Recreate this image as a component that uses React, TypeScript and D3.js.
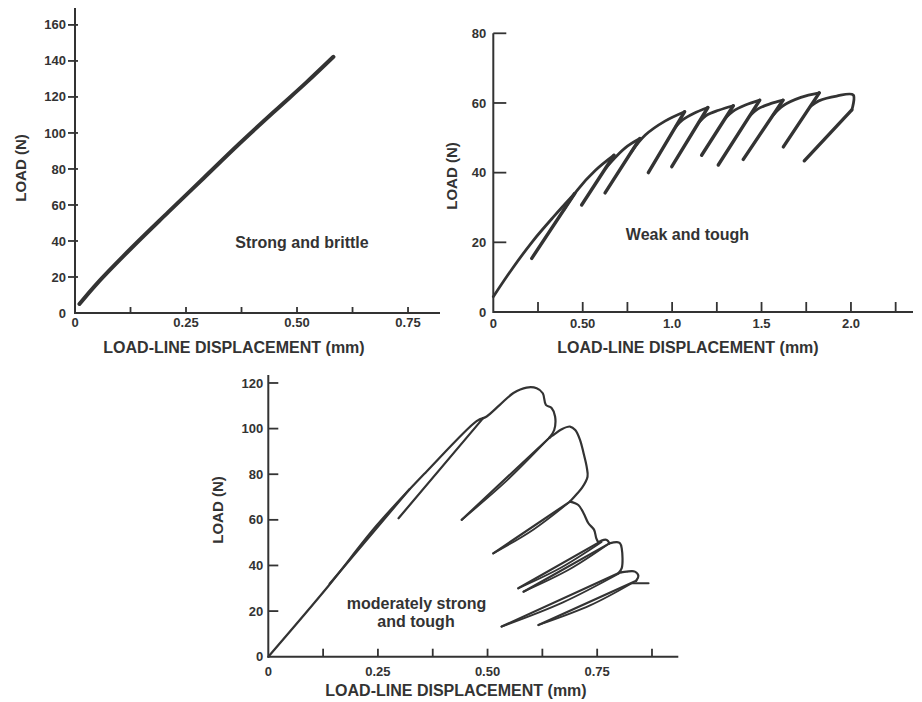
import React, { useEffect, useRef } from 'react';
import * as d3 from 'd3';

type Pt = [number, number];

// ---- Strong and brittle (top left) ----
const brittleCurve: Pt[] = [
  [0.01, 5], [0.05, 16.5], [0.13, 36.8], [0.21, 56], [0.29, 75],
  [0.37, 94], [0.45, 112.2], [0.52, 127.8], [0.582, 142.3],
];
const brittleXTicks = [0, 0.125, 0.25, 0.375, 0.5, 0.625, 0.75];
const brittleXLabels = ['0', '', '0.25', '', '0.50', '', '0.75'];
const brittleYTicks = [0, 20, 40, 60, 80, 100, 120, 140, 160];

// ---- Weak and tough (top right) ----
// loading humps: each leaves the previous unloading line and ends at a peak
const weakHumps: Pt[][] = [
  [[0, 4.4], [0.1, 12.0], [0.22, 20.3], [0.34, 27.5], [0.455, 34.0]],
  [[0.395, 29.35], [0.47, 35.0], [0.57, 40.6], [0.675, 45.0]],
  [[0.63, 41.4], [0.69, 44.8], [0.75, 47.6], [0.82, 49.8]],
  [[0.771, 45.9], [0.85, 50.8], [0.96, 54.8], [1.07, 57.5]],
  [[1.019, 53.1], [1.06, 55.2], [1.12, 57.0], [1.2, 58.7]],
  [[1.15, 54.45], [1.19, 56.4], [1.26, 57.9], [1.342, 59.2]],
  [[1.298, 55.65], [1.34, 57.6], [1.41, 59.4], [1.49, 60.8]],
  [[1.432, 56.15], [1.48, 58.3], [1.55, 59.8], [1.62, 60.8]],
  [[1.565, 56.55], [1.62, 59.2], [1.72, 61.6], [1.823, 62.9]],
  [[1.773, 59.0], [1.82, 60.6], [1.92, 62.0], [2.013, 62.3], [2.005, 58.0]],
];
// unloading lines: peak -> bottom
const weakUnloads: Pt[][] = [
  [[0.455, 34.0], [0.215, 15.4]],
  [[0.675, 45.0], [0.494, 30.7]],
  [[0.82, 49.8], [0.625, 34.2]],
  [[1.07, 57.5], [0.867, 40.0]],
  [[1.2, 58.7], [0.998, 41.7]],
  [[1.342, 59.2], [1.165, 45.0]],
  [[1.49, 60.8], [1.258, 42.2]],
  [[1.62, 60.8], [1.398, 43.8]],
  [[1.823, 62.9], [1.622, 47.4]],
  [[2.005, 58.0], [1.739, 43.4]],
];
const weakXTicks = [0, 0.25, 0.5, 0.75, 1, 1.25, 1.5, 1.75, 2, 2.25];
const weakXLabels = ['0', '', '0.50', '', '1.0', '', '1.5', '', '2.0', ''];
const weakYTicks = [0, 20, 40, 60, 80];

// ---- Moderately strong and tough (bottom) ----
const modEnvelope: Pt[] = [[0, 0], [0.137, 31], [0.247, 57.5], [0.36, 81], [0.475, 103.3], [0.49, 104.6]];
const modHumps: Pt[][] = [
  [[0.49, 104.6], [0.498, 105.3], [0.528, 110.4], [0.559, 115.6], [0.589, 118], [0.612, 117.7],
    [0.626, 115.5], [0.633, 110.4], [0.646, 109], [0.654, 105.3], [0.652, 99.4], [0.641, 96]],
  [[0.641, 96], [0.65, 97.2], [0.669, 99.7], [0.688, 100.9], [0.7, 99.4], [0.711, 95], [0.719, 89.2],
    [0.726, 83.3], [0.728, 78.9], [0.716, 74.2], [0.703, 71.2], [0.688, 68]],
  [[0.688, 68], [0.707, 66.5], [0.719, 62.9], [0.73, 58.5], [0.743, 55.6], [0.748, 51.9], [0.753, 50]],
  [[0.753, 50], [0.76, 50.9], [0.772, 51.2], [0.778, 49.7]],
  [[0.778, 49.7], [0.795, 50.2], [0.802, 49.7], [0.806, 47.5], [0.806, 38.8], [0.798, 36.6]],
  [[0.805, 37.0], [0.817, 37.3], [0.836, 37.3], [0.844, 35.4], [0.839, 33.3]],
  [[0.829, 32.2], [0.867, 32.2]],
];
const modUnloads: Pt[][] = [
  [[0.322, 73.4], [0.14, 32.0]],
  [[0.49, 104.6], [0.297, 60.7]],
  [[0.641, 96], [0.441, 60]],
  [[0.688, 68], [0.513, 45.3]],
  [[0.753, 50], [0.57, 30]],
  [[0.778, 49.7], [0.582, 28.5]],
  [[0.798, 36.6], [0.532, 13.2]],
  [[0.839, 33.3], [0.616, 13.9]],
];
const modReloads: Pt[][] = [
  [[0.441, 60], [0.545, 77.4], [0.641, 96]],
  [[0.513, 45.3], [0.605, 55.8], [0.688, 68]],
  [[0.57, 30], [0.667, 39.0], [0.76, 50.3]],
  [[0.582, 28.5], [0.687, 38.3], [0.778, 49.7]],
  [[0.532, 13.2], [0.672, 23.8], [0.805, 37.0]],
  [[0.616, 13.9], [0.735, 22.6], [0.829, 32.2]],
];
const modXTicks = [0, 0.125, 0.25, 0.375, 0.5, 0.625, 0.75, 0.875];
const modXLabels = ['0', '', '0.25', '', '0.50', '', '0.75', ''];
const modYTicks = [0, 20, 40, 60, 80, 100, 120];

const INK = '#333';
const FONT = '"Liberation Sans", Arial, sans-serif';

interface Panel {
  left: number; right: number; bottom: number; top: number;
  xMax: number; yMax: number;
  xTicks: number[]; xLabels: string[]; yTicks: number[];
  xTickLen: number; yTickIn: number; yTickOut: number;
  yLabelGap: number; xLabelDy: number;
  xTitleX: number; xTitleY: number; yTitleX: number; yTitleY: number;
  notes: { text: string; x: number; y: number }[];
  strokes: { pts: Pt[]; w: number }[];
}

const panels: Panel[] = [
  {
    left: 75, right: 440, bottom: 313, top: 8, xMax: 0.822, yMax: 169.4,
    xTicks: brittleXTicks, xLabels: brittleXLabels, yTicks: brittleYTicks,
    xTickLen: 6, yTickIn: 3, yTickOut: 7, yLabelGap: 9, xLabelDy: 14,
    xTitleX: 234, xTitleY: 353, yTitleX: 26, yTitleY: 168,
    notes: [{ text: 'Strong and brittle', x: 302, y: 248 }],
    strokes: [{ pts: brittleCurve, w: 4 }],
  },
  {
    left: 493.3, right: 913, bottom: 312, top: 33.3, xMax: 2.347, yMax: 80,
    xTicks: weakXTicks, xLabels: weakXLabels, yTicks: weakYTicks,
    xTickLen: 10, yTickIn: 13, yTickOut: 0, yLabelGap: 7, xLabelDy: 16,
    xTitleX: 688, xTitleY: 353, yTitleX: 457, yTitleY: 176,
    notes: [{ text: 'Weak and tough', x: 687.5, y: 240 }],
    strokes: [
      ...weakHumps.map((pts) => ({ pts, w: 2.8 })),
      ...weakUnloads.map((pts) => ({ pts, w: 3.4 })),
    ],
  },
  {
    left: 268.3, right: 678.3, bottom: 656.7, top: 375, xMax: 0.935, yMax: 123.5,
    xTicks: modXTicks, xLabels: modXLabels, yTicks: modYTicks,
    xTickLen: 8, yTickIn: 10, yTickOut: 0, yLabelGap: 5, xLabelDy: 19,
    xTitleX: 456, xTitleY: 696, yTitleX: 223, yTitleY: 510,
    notes: [
      { text: 'moderately strong', x: 416.5, y: 608.5 },
      { text: 'and tough', x: 416, y: 627 },
    ],
    strokes: [
      { pts: modEnvelope, w: 2.2 },
      ...modHumps.map((pts) => ({ pts, w: 2.2 })),
      ...modUnloads.map((pts) => ({ pts, w: 2.2 })),
      ...modReloads.map((pts) => ({ pts, w: 1.8 })),
    ],
  },
];

function drawPanel(svg: d3.Selection<SVGSVGElement, unknown, null, undefined>, p: Panel) {
  const x = d3.scaleLinear().domain([0, p.xMax]).range([p.left, p.right]);
  const y = d3.scaleLinear().domain([0, p.yMax]).range([p.bottom, p.top]);
  const g = svg.append('g');

  // axis lines
  g.append('line')
    .attr('x1', x(0)).attr('x2', x(p.xMax)).attr('y1', y(0)).attr('y2', y(0))
    .attr('stroke', INK).attr('stroke-width', 2);
  g.append('line')
    .attr('x1', x(0)).attr('x2', x(0)).attr('y1', y(0) + 1).attr('y2', y(p.yMax))
    .attr('stroke', INK).attr('stroke-width', 2);

  // x ticks (pointing up into the plot)
  g.selectAll('.xt')
    .data(p.xTicks.filter((t) => t > 0))
    .enter()
    .append('line')
    .attr('x1', (d) => x(d)).attr('x2', (d) => x(d))
    .attr('y1', y(0)).attr('y2', y(0) - p.xTickLen)
    .attr('stroke', INK).attr('stroke-width', 1.8);
  g.selectAll('.xl')
    .data(p.xTicks.map((t, i) => ({ t, label: p.xLabels[i] })))
    .enter()
    .append('text')
    .attr('x', (d) => x(d.t)).attr('y', y(0) + p.xLabelDy)
    .attr('text-anchor', 'middle')
    .style('font-family', FONT).style('font-size', '13px').style('font-weight', 'bold')
    .attr('fill', INK)
    .text((d) => d.label);

  // y ticks
  g.selectAll('.yt')
    .data(p.yTicks.filter((t) => t > 0))
    .enter()
    .append('line')
    .attr('x1', x(0) - p.yTickOut).attr('x2', x(0) + p.yTickIn)
    .attr('y1', (d) => y(d)).attr('y2', (d) => y(d))
    .attr('stroke', INK).attr('stroke-width', 1.8);
  g.selectAll('.yl')
    .data(p.yTicks)
    .enter()
    .append('text')
    .attr('x', x(0) - p.yLabelGap).attr('y', (d) => y(d))
    .attr('dy', '0.35em')
    .attr('text-anchor', 'end')
    .style('font-family', FONT).style('font-size', '13px').style('font-weight', 'bold')
    .attr('fill', INK)
    .text((d) => String(d));

  // axis titles
  g.append('text')
    .attr('x', p.xTitleX).attr('y', p.xTitleY)
    .attr('text-anchor', 'middle')
    .style('font-family', FONT).style('font-size', '16px').style('font-weight', 'bold')
    .attr('fill', INK)
    .text('LOAD-LINE DISPLACEMENT (mm)');
  g.append('text')
    .attr('transform', `translate(${p.yTitleX}, ${p.yTitleY}) rotate(-90)`)
    .attr('text-anchor', 'middle')
    .style('font-family', FONT).style('font-size', '15px').style('font-weight', 'bold')
    .attr('fill', INK)
    .text('LOAD (N)');

  // annotations
  p.notes.forEach((n) => {
    g.append('text')
      .attr('x', n.x).attr('y', n.y)
      .attr('text-anchor', 'middle')
      .style('font-family', FONT).style('font-size', '16px').style('font-weight', 'bold')
      .attr('fill', INK)
      .text(n.text);
  });

  // curves
  const line = d3
    .line<Pt>()
    .x((d) => x(d[0]))
    .y((d) => y(d[1]))
    .curve(d3.curveCatmullRom.alpha(0.5));

  p.strokes.forEach((s) => {
    g.append('path')
      .attr('d', line(s.pts) || '')
      .attr('fill', 'none')
      .attr('stroke', INK)
      .attr('stroke-width', s.w)
      .attr('stroke-linejoin', 'round')
      .attr('stroke-linecap', 'round');
  });
}

export default function App() {
  const ref = useRef<SVGSVGElement>(null);

  useEffect(() => {
    if (!ref.current) return;
    const svg = d3.select(ref.current);
    svg.selectAll('*').remove();
    panels.forEach((p) => drawPanel(svg, p));
  }, []);

  return (
    <svg
      ref={ref}
      width={922}
      height={702}
      style={{ position: 'absolute', left: 0, top: 0, background: '#fff' }}
    />
  );
}
